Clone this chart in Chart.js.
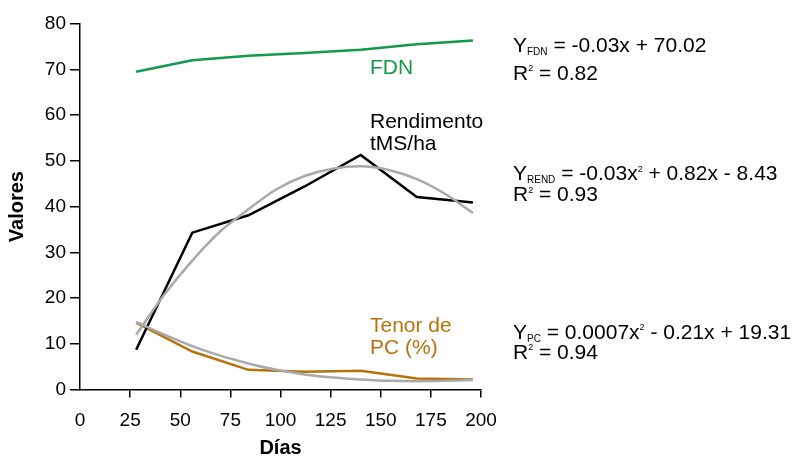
<!DOCTYPE html>
<html><head><meta charset="utf-8">
<script src="https://cdn.jsdelivr.net/npm/chart.js@4/dist/chart.umd.min.js"></script>
<style>html,body{margin:0;padding:0;background:#fff}#wrap{width:793px;height:458px;position:relative}</style>
</head><body><div id="wrap"><canvas id="c" width="793" height="458"></canvas></div>
<script>
// ---- data ----
const days = [28, 56, 84, 112, 140, 168, 196];
const fdn = [69.5, 72.0, 73.0, 73.6, 74.3, 75.5, 76.3];
const rendimiento = [8.7, 34.3, 38.1, 44.4, 51.3, 42.1, 40.9];
const pc = [14.6, 8.3, 4.3, 3.9, 4.1, 2.4, 2.2];
const fitDays = [28, 42, 56, 70, 84, 98, 112, 126, 140, 154, 168, 182, 196];
const rendFit = [12.0, 20.7, 28.2, 34.6, 39.4, 43.8, 46.7, 48.3, 48.8, 48.0, 46.0, 42.8, 38.6];
const pcFit = [14.8, 12.0, 9.5, 7.4, 5.7, 4.3, 3.3, 2.6, 2.2, 1.9, 1.8, 1.9, 2.1];
const xTickValues = [0, 25, 50, 75, 100, 125, 150, 175, 200];
const yTickValues = [0, 10, 20, 30, 40, 50, 60, 70, 80];
const seriesLabels = ['FDN', 'Rendimento tMS/ha', 'Tenor de PC (%)'];
const xTitle = 'Días';
const yTitle = 'Valores';

const GREEN = '#12994a';
const BROWN = '#b5730c';
const GRAY = '#a9a9a9';
const FONT = "'Liberation Sans', Arial, Helvetica, sans-serif";
Chart.defaults.font.family = FONT;

const pts = (xs, ys) => xs.map((x, i) => ({x: x, y: ys[i]}));

function rich(ctx, x, y, parts, color) {
  ctx.fillStyle = color;
  ctx.textBaseline = 'alphabetic';
  ctx.textAlign = 'left';
  let cx = x;
  for (const p of parts) {
    ctx.font = p.size + 'px ' + FONT;
    ctx.fillText(p.t, cx, y + (p.dy || 0));
    cx += ctx.measureText(p.t).width;
  }
}

const textPlugin = {
  id: 'texts',
  afterDraw(chart) {
    const ctx = chart.ctx;
    ctx.save();
    const L = 21;
    rich(ctx, 370, 74, [{t: 'FDN', size: L}], GREEN);
    rich(ctx, 370, 127.5, [{t: 'Rendimento', size: L}], '#000');
    rich(ctx, 370, 150, [{t: 'tMS/ha', size: L}], '#000');
    rich(ctx, 370, 331.5, [{t: 'Tenor de', size: L}], BROWN);
    rich(ctx, 370, 353.5, [{t: 'PC (%)', size: L}], BROWN);

    const ex = 513;
    const sub = 10, sup = 9;
    rich(ctx, ex, 52, [{t: 'Y', size: L}, {t: 'FDN', size: sub, dy: 3}, {t: ' = -0.03x + 70.02', size: L}], '#000');
    rich(ctx, ex, 79.5, [{t: 'R', size: L}, {t: '2', size: sup, dy: -8.5}, {t: ' = 0.82', size: L}], '#000');
    rich(ctx, ex, 180, [{t: 'Y', size: L}, {t: 'REND', size: sub, dy: 3}, {t: ' = -0.03x', size: L}, {t: '2', size: sup, dy: -8.5}, {t: ' + 0.82x - 8.43', size: L}], '#000');
    rich(ctx, ex, 201, [{t: 'R', size: L}, {t: '2', size: sup, dy: -8.5}, {t: ' = 0.93', size: L}], '#000');
    rich(ctx, ex, 338.5, [{t: 'Y', size: L}, {t: 'PC', size: sub, dy: 3}, {t: ' = 0.0007x', size: L}, {t: '2', size: sup, dy: -8.5}, {t: ' - 0.21x + 19.31', size: L}], '#000');
    rich(ctx, ex, 358.5, [{t: 'R', size: L}, {t: '2', size: sup, dy: -8.5}, {t: ' = 0.94', size: L}], '#000');
    ctx.restore();
  }
};

const lineDs = (label, data, color, extra) => Object.assign({
  label: label, data: data, borderColor: color, backgroundColor: color,
  borderWidth: 2.5, pointRadius: 0, fill: false, tension: 0
}, extra || {});

new Chart(document.getElementById('c'), {
  type: 'line',
  data: {
    datasets: [
      lineDs('Ajuste Rendimento', pts(fitDays, rendFit), GRAY, {cubicInterpolationMode: 'monotone'}),
      lineDs('Ajuste PC', pts(fitDays, pcFit), GRAY, {cubicInterpolationMode: 'monotone'}),
      lineDs(seriesLabels[0], pts(days, fdn), GREEN),
      lineDs(seriesLabels[1], pts(days, rendimiento), '#000'),
      lineDs(seriesLabels[2], pts(days, pc), BROWN)
    ]
  },
  options: {
    responsive: false,
    animation: false,
    devicePixelRatio: 1,
    layout: {padding: {top: 23.7, right: 312, bottom: 0, left: 0}},
    plugins: {legend: {display: false}, tooltip: {enabled: false}},
    scales: {
      x: {
        type: 'linear', min: 0, max: 200,
        afterBuildTicks: s => { s.ticks = xTickValues.map(v => ({value: v})); },
        afterFit: s => { s.height = 68.5; },
        ticks: {font: {size: 19}, color: '#000', padding: 12, maxRotation: 0, autoSkip: false},
        grid: {drawOnChartArea: false, drawTicks: true, tickLength: 8, lineWidth: 1.5,
               color: c => (c.tick && c.tick.value === 0) ? 'rgba(0,0,0,0)' : '#000'},
        border: {display: true, color: '#000', width: 1.5},
        title: {display: true, text: xTitle, font: {size: 20, weight: 'bold', lineHeight: 1}, color: '#000', padding: {top: 0, bottom: 0}}
      },
      y: {
        type: 'linear', min: 0, max: 80,
        afterBuildTicks: s => { s.ticks = yTickValues.map(v => ({value: v})); },
        afterFit: s => { s.width = 80; },
        ticks: {font: {size: 19}, color: '#000', padding: 4, autoSkip: false},
        grid: {drawOnChartArea: false, drawTicks: true, tickLength: 10, lineWidth: 1.5, color: '#000'},
        border: {display: true, color: '#000', width: 1.5},
        title: {display: true, text: yTitle, font: {size: 20, weight: 'bold'}, color: '#000', padding: {top: 5.5, bottom: 0}}
      }
    }
  },
  plugins: [textPlugin]
});
</script>
</body></html>
